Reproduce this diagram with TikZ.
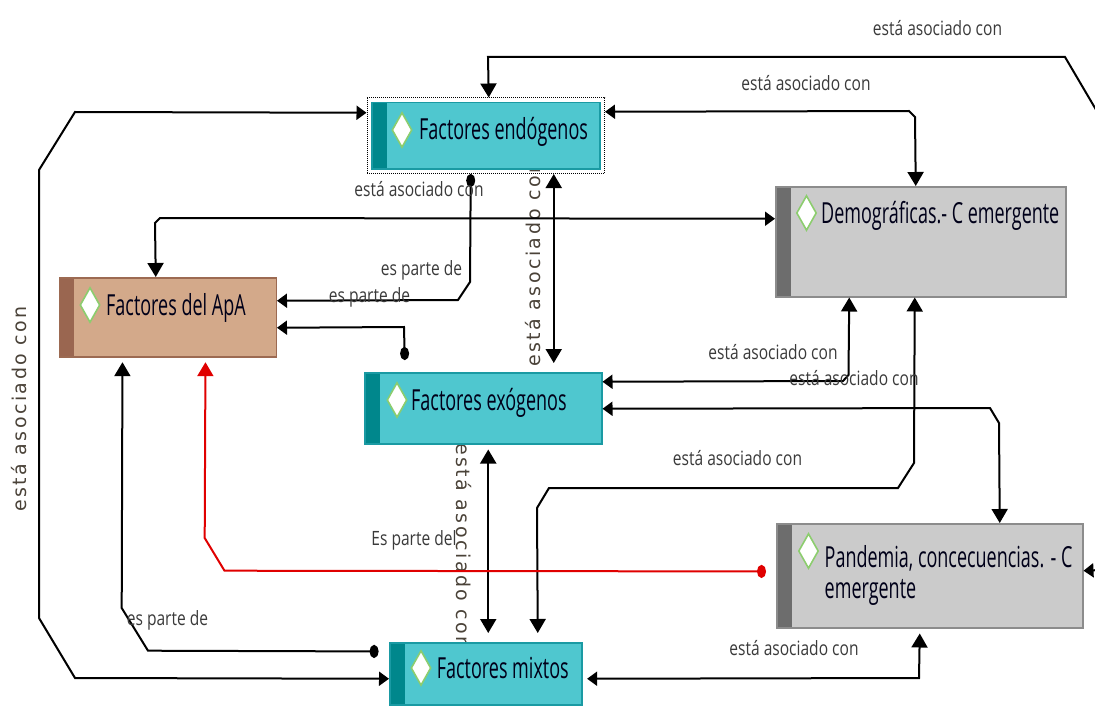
\documentclass[tikz,border=0pt]{standalone}
\usepackage{fontspec}
\usetikzlibrary{arrows.meta,shapes.geometric,fit}
\newfontfamily\nfont[FakeStretch=0.62]{Open Sans}
\newfontfamily\lfont[FakeStretch=0.79]{Open Sans}
\newfontfamily\vfont[LetterSpace=13]{DejaVu Sans}
\definecolor{tealF}{HTML}{4FC7CF}
\definecolor{tealB}{HTML}{1A9AA3}
\definecolor{tealD}{HTML}{00878C}
\definecolor{tanF}{HTML}{D3A98A}
\definecolor{tanB}{HTML}{9C6A52}
\definecolor{tanD}{HTML}{9A6650}
\definecolor{grayF}{HTML}{CBCBCB}
\definecolor{grayB}{HTML}{8C8C8C}
\definecolor{grayD}{HTML}{6D6D6D}
\definecolor{diaG}{HTML}{8CCD6E}
\definecolor{labC}{HTML}{3A3A3A}
\definecolor{vlabC}{HTML}{4A4238}
\definecolor{redL}{HTML}{E00000}
\tikzset{
  tV/.tip={Triangle[length=14pt,width=16pt]},
  tH/.tip={Triangle[length=10pt,width=14pt]},
  dV/.tip={Circle[length=13pt,width=9pt]},
  dH/.tip={Circle[length=9pt,width=13pt]},
}
\begin{document}
\begin{tikzpicture}[x=1pt,y=-1pt,
  nbox/.style n args={3}{draw=#1, fill=#2, line width=1.5pt, inner sep=0pt, anchor=north west,
     path picture={\fill[#3] (path picture bounding box.north west) rectangle ([xshift=15pt]path picture bounding box.south west);}},
  sel/.style={draw=black, line width=1pt, dash pattern=on 1pt off 1pt, inner sep=4pt},
  dia/.style={diamond, draw=diaG, fill=white, line width=1.6pt, minimum width=20pt, minimum height=35pt, inner sep=0pt},
  ntext/.style={font=\nfont\fontsize{29}{31}\selectfont, text=black!90!blue, inner sep=0pt, anchor=base west},
  lab/.style={font=\lfont\fontsize{19.7}{22}\selectfont, text=labC, inner sep=0pt},
  vlab/.style={font=\vfont\fontsize{19}{22}\selectfont, text=vlabC, inner sep=0pt},
  conn/.style={draw=black, line width=2pt},
  redconn/.style={draw=redL, line width=2pt},
]
\useasboundingbox (0,0) rectangle (1095,706);
\clip (0,0) rectangle (1095,706);
\fill[white] (0,0) rectangle (1095,706);

% vertical labels (partly covered by nodes)
\node[vlab, rotate=90] (v1) at (19,409) {está asociado con};
\node[vlab, rotate=90] (v2) at (533,264) {está asociado con};
\node[vlab, rotate=-90] (v3) at (464,546) {está asociado con};

% nodes
\node[nbox={tealB}{tealF}{tealD}, minimum width=228pt, minimum height=66pt] (endo) at (371,102) {};
\node[sel, fit=(endo)] (endoSel) {};
\node[nbox={tanB}{tanF}{tanD}, minimum width=217pt, minimum height=79pt] (apa) at (58.5,277) {};
\node[nbox={grayB}{grayF}{grayD}, minimum width=290pt, minimum height=110pt] (demo) at (775,186) {};
\node[nbox={tealB}{tealF}{tealD}, minimum width=237pt, minimum height=71pt] (exo) at (364,372) {};
\node[nbox={grayB}{grayF}{grayD}, minimum width=306pt, minimum height=104pt] (pand) at (776,523) {};
\node[nbox={tealB}{tealF}{tealD}, minimum width=192pt, minimum height=62pt] (mixt) at (389,642) {};

% connectors
\draw[conn, {tH}-{tH}] ([yshift=23pt]endoSel.west) -- (75,112) -- (39,170) -- (39,618) -- (75,678) -- ([yshift=-5pt]mixt.west);
\draw[conn, {dV}-{tH}] ([xshift=-15pt]endoSel.south) -- (470,282) -- (458,300) -- ([yshift=16.5pt]apa.east);
\draw[conn, {dV}-{tH}] ([xshift=-78.5pt,yshift=12pt]exo.north) -- (404,327) -- ([yshift=-10.5pt]apa.east);
\draw[conn, {tH}-{tV}] ([yshift=23pt]demo.west) -- (160,218) -- (155,223) -- ([xshift=-12pt]apa.north);
\draw[conn, {tV}-{tV}] ([xshift=68pt]endoSel.south) -- ([xshift=70.5pt,yshift=9pt]exo.north);
\draw[conn, {tH}-{tV}] ([yshift=24pt]endoSel.east) -- (909,111) -- (915,117) -- ([xshift=-5pt]demo.north);
\draw[conn, {tV}-{tH}] ([xshift=3pt]endoSel.north) -- (488,57) -- (1065,57) -- (1095,108) -- (1110,133) -- (1110,560) -- (1100,570) -- ([yshift=5pt]pand.east);
\draw[conn, {tV}-{tH}] ([xshift=-71.5pt]demo.south) -- (848.5,375) -- (843,381) -- ([yshift=26.5pt]exo.east);
\draw[conn, {tH}-{tV}] ([yshift=-0.5pt]exo.east) -- (990,408) -- (999,423) -- ([xshift=70pt]pand.north);
\draw[conn, {tV}-{tV}] ([xshift=-6pt]demo.south) -- (914,463) -- (898,488) -- (549,488) -- (537,508) -- ([xshift=52pt,yshift=9pt]mixt.north);
\draw[conn, {tV}-{tV}] ([xshift=5pt,yshift=-5pt]exo.south) -- ([xshift=2.5pt,yshift=9pt]mixt.north);
\draw[redconn, {dH}-{tV}] ([xshift=-10pt,yshift=4.3pt]pand.west) -- (224.5,570.7) -- (204.7,538) -- ([xshift=37.7pt,yshift=-4.7pt]apa.south);
\draw[conn, {tV}-{dH}] ([xshift=-45.3pt,yshift=-4.7pt]apa.south) -- (121.7,608) -- (148,650.7) -- ([xshift=-10.4pt,yshift=22.3pt]mixt.west);
\draw[conn, {tV}-{tH}] ([xshift=-10pt,yshift=-5pt]pand.south) -- (919,678) -- ([xshift=4.6pt,yshift=-5pt]mixt.east);

% icons and node texts
\node[dia] (endoD) at (402,130) {};
\node[ntext] (endoT) at (419,140) {Factores endógenos};
\node[dia] (apaD) at (90,305) {};
\node[ntext] (apaT) at (106,315) {Factores del ApA};
\node[dia] (exoD) at (397,400) {};
\node[ntext] (exoT) at (411,410) {Factores exógenos};
\node[dia] (demoD) at (806.5,213) {};
\node[ntext] (demoT) at (821,223) {Demográficas.- C emergente};
\node[dia] (pandD) at (808.5,551) {};
\node[ntext, anchor=north west, align=left] (pandT) at (824.5,545) {Pandemia, concecuencias. - C\\emergente};
\node[dia] (mixtD) at (421,668) {};
\node[ntext] (mixtT) at (436.7,678) {Factores mixtos};

% edge labels
\node[lab] (l1) at (937.5,28) {está asociado con};
\node[lab] (l2) at (806,83) {está asociado con};
\node[lab] (l3) at (419,189) {está asociado con};
\node[lab] (l4) at (421.5,270) {es parte de};
\node[lab] (l5) at (369.5,297) {es parte de};
\node[lab] (l6) at (773,352) {está asociado con};
\node[lab] (l7) at (854,378) {está asociado con};
\node[lab] (l8) at (737.5,458) {está asociado con};
\node[lab] (l9) at (414,540) {Es parte del};
\node[lab] (l10) at (167.5,620.7) {es parte de};
\node[lab] (l11) at (794,648) {está asociado con};
\end{tikzpicture}
\end{document}
